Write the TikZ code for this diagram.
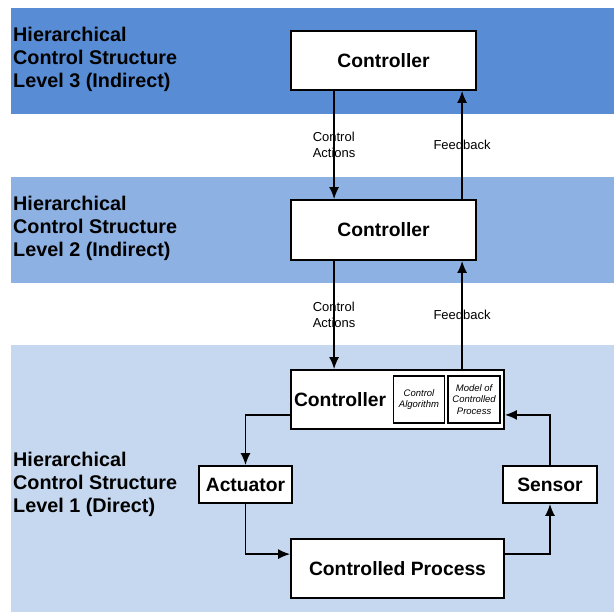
\documentclass[tikz,border=0pt]{standalone}
\usepackage{fontspec}
\setmainfont{Liberation Sans}
\usepackage{tikz}
\usetikzlibrary{arrows.meta,positioning}

\definecolor{bandthree}{RGB}{88,141,213}
\definecolor{bandtwo}{RGB}{142,177,227}
\definecolor{bandone}{RGB}{198,216,239}

\begin{document}
\begin{tikzpicture}
[
x=1pt, y=-1pt,
box/.style={draw, line width=1.8pt, fill=white, inner sep=0pt, font=\bfseries\fontsize{19.3}{23}\selectfont},
subbox/.style={draw, line width=1.6pt, fill=white, inner sep=0pt, minimum width=51pt, minimum height=47pt, align=center, font=\itshape\fontsize{9.5}{11.5}\selectfont},
tier/.style={anchor=west, inner sep=0pt, align=left, font=\bfseries\fontsize{19.8}{23}\selectfont},
note/.style={midway, inner sep=0pt, align=left, font=\fontsize{13}{16}\selectfont},
flow/.style={line width=1.5pt, -{Latex[length=12pt,width=10pt]}}
]
\useasboundingbox (0,0) rectangle (614,614);

% bands
\fill[bandthree] (11,8) rectangle (614,114);
\fill[bandtwo] (11,177) rectangle (614,283);
\fill[bandone] (11,345) rectangle (614,612);

\node[tier] (lvlC) at (13,59) {Hierarchical\\Control Structure\\Level 3 (Indirect)};
\node[tier] (lvlB) at (13,228) {Hierarchical\\Control Structure\\Level 2 (Indirect)};
\node[tier] (lvlA) at (13,484) {Hierarchical\\Control Structure\\Level 1 (Direct)};

% controllers
\node[box, minimum width=185pt, minimum height=59pt] (ctrlC) at (383.5,60.5) {Controller};
\node[box, minimum width=185pt, minimum height=60pt] (ctrlB) at (383.5,230) {Controller};
\node[box, minimum width=213pt, minimum height=59pt] (ctrlA) at (397.5,399.5) {};
\node[subbox, minimum width=52pt, left=4pt of ctrlA.east] (model) {Model of\\Controlled\\Process};
\node[subbox, left=2pt of model] (algo) {Control\\Algorithm};
\node[box, draw=none, fill=none, right=3pt of ctrlA.west] (ctrlAtxt) {Controller};

% loop
\node[box, minimum width=93pt, minimum height=37pt] (act) at (245.5,484.5) {Actuator};
\node[box, minimum width=94pt, minimum height=37pt] (sensor) at (550,484.5) {Sensor};
\node[box, minimum width=213pt, minimum height=59pt] (proc) at (397.5,568.5) {Controlled Process};

\draw[flow] ([xshift=44pt]ctrlC.south west) -- node[note] {Control\\Actions} ([xshift=44pt]ctrlB.north west);
\draw[flow] ([xshift=172pt]ctrlB.north west) -- node[note] {Feedback} ([xshift=172pt]ctrlC.south west);
\draw[flow] ([xshift=44pt]ctrlB.south west) -- node[note] {Control\\Actions} ([xshift=44pt]ctrlA.north west);
\draw[flow] ([xshift=172pt]ctrlA.north west) -- node[note] {Feedback} ([xshift=172pt]ctrlB.south west);

\draw[flow] ([yshift=15pt]ctrlA.south west) -| (act.north);
\draw[flow] (act.south) |- ([yshift=-16pt]proc.north west);
\draw[flow] ([yshift=-16pt]proc.north east) -| (sensor.south);
\draw[flow] (sensor.north) |- ([yshift=15pt]ctrlA.south east);
\end{tikzpicture}
\end{document}
